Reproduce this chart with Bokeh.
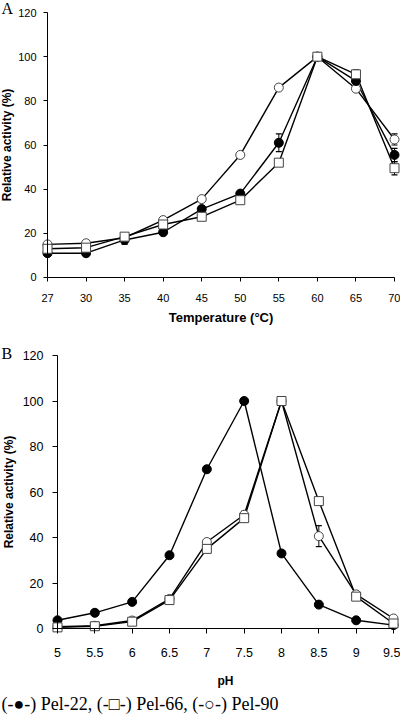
from bokeh.plotting import figure
from bokeh.layouts import column
from bokeh.models import Range1d, FixedTicker, Label
from bokeh.embed import file_html
from bokeh.resources import INLINE

# ---------------- data ----------------
temps = ["27", "30", "35", "40", "45", "50", "55", "60", "65", "70"]
a_pel22 = [11, 11, 17, 20.5, 31, 38, 61, 100, 89, 55.5]
a_pel66 = [13, 13.5, 18.5, 24, 27.5, 35, 52, 100, 92, 49.5]
a_pel90 = [15, 15.5, 18, 26, 35.5, 55.5, 86, 100, 85.5, 62.5]
a_err22 = [1, 1, 2, 1, 1, 1, 4, 1, 1.5, 3]
a_err66 = [1, 1, 1, 1, 1, 1, 1, 1, 2, 3]
a_err90 = [1, 1, 1, 1, 1, 1, 1, 1, 1, 2.5]

phs = ["5", "5.5", "6", "6.5", "7", "7.5", "8", "8.5", "9", "9.5"]
b_pel22 = [3.6, 6.9, 11.7, 32.2, 70, 100, 33, 10.5, 3.6, 1.5]
b_pel66 = [0.5, 1, 3, 12.5, 35, 48.5, 100, 56, 14, 2.2]
b_pel90 = [0.8, 1.2, 3.5, 13, 38, 50, 100, 40.6, 15, 4.4]
b_err22 = [0.5, 0.5, 0.5, 1, 1, 1, 1, 1, 0.5, 0.5]
b_err66 = [0.5, 0.5, 0.5, 1, 1, 1.5, 1, 1, 1, 0.5]
b_err90 = [0.5, 0.5, 0.5, 1, 1, 1.5, 1, 4.6, 1, 0.5]

y_ticks = [0, 20, 40, 60, 80, 100, 120]
legend_text = "(-\u25cf-) Pel-22, (-\u25a1-) Pel-66, (-\u25cb-) Pel-90"

SANS = "Liberation Sans"
SERIF = "Liberation Serif"


def style_axes(p, nlab, labels, tick_font, xlab_font, ylab_font,
               xstand, xlabstand, ystand, ylabstand, tick_out):
    p.xgrid.grid_line_color = None
    p.ygrid.grid_line_color = None
    p.outline_line_color = None
    p.background_fill_color = "white"
    p.border_fill_color = "white"
    for ax in (p.xaxis, p.yaxis):
        ax.axis_line_color = "black"
        ax.axis_line_width = 1
        ax.major_tick_line_color = "black"
        ax.major_tick_out = tick_out
        ax.major_tick_in = 0
        ax.minor_tick_line_color = None
        ax.major_label_text_font = SANS
        ax.major_label_text_font_size = tick_font
        ax.major_label_text_color = "black"
        ax.axis_label_text_font = SANS
        ax.axis_label_text_font_style = "bold"
        ax.axis_label_text_color = "black"
        ax.fixed_location = 0
    p.xaxis.axis_label_text_font_size = xlab_font
    p.yaxis.axis_label_text_font_size = ylab_font
    p.xaxis.major_label_standoff = xstand
    p.xaxis.axis_label_standoff = xlabstand
    p.yaxis.major_label_standoff = ystand
    p.yaxis.axis_label_standoff = ylabstand
    p.yaxis.ticker = FixedTicker(ticks=y_ticks)
    p.yaxis.bounds = (0, 120)
    p.xaxis.bounds = (0, nlab - 1)
    p.xaxis.ticker = FixedTicker(ticks=list(range(nlab)))
    p.xaxis.major_label_overrides = {i: t for i, t in enumerate(labels)}


def draw_series(p, xs, series, errs):
    for ys in series:
        p.line(xs, ys, line_color="black", line_width=1.4)
    for ys, es in zip(series, errs):
        lo = [y - e for y, e in zip(ys, es)]
        hi = [y + e for y, e in zip(ys, es)]
        p.segment(xs, lo, xs, hi, line_color="black", line_width=1)
        p.scatter(xs, lo, marker="dash", size=6, line_color="black", line_width=1.2)
        p.scatter(xs, hi, marker="dash", size=6, line_color="black", line_width=1.2)
    s22, s66, s90 = series
    p.scatter(xs, s90, marker="circle", size=9, fill_color="white",
              line_color="#444444", line_width=1)
    p.scatter(xs, s22, marker="circle", size=9, fill_color="black",
              line_color="black", line_width=1)
    p.scatter(xs, s66, marker="square", size=9, fill_color="white",
              line_color="#444444", line_width=1)


def make_fig(h, xr, yr):
    return figure(width=400, height=h, output_backend="svg", toolbar_location=None,
                  x_range=Range1d(*xr), y_range=Range1d(*yr),
                  min_border_left=0, min_border_right=0, min_border_top=0,
                  min_border_bottom=0)


# ---------------- panel A ----------------
xa = list(range(len(temps)))
pA = make_fig(336, (-1.219, 9.1556), (-26.717, 125.434))
style_axes(pA, len(temps), temps, "11px", "13px", "12px", 13, 4, 7, 1, 4)
pA.xaxis.axis_label = "Temperature (\u00b0C)"
pA.yaxis.axis_label = "Relative activity (%)"
draw_series(pA, xa, [a_pel22, a_pel66, a_pel90], [a_err22, a_err66, a_err90])
pA.add_layout(Label(x=-1.193, y=121.8, text="A", text_font=SERIF,
                    text_font_size="16px", text_baseline="middle",
                    text_align="left", text_color="black"))

# ---------------- panel B ----------------
xb = list(range(len(phs)))
pB = make_fig(378, (-1.5268, 9.1875), (-37.802, 128.352))
style_axes(pB, len(phs), phs, "12.5px", "12px", "12px", 14, 14, 9, 4, 5)
pB.xaxis.axis_label = "pH"
pB.yaxis.axis_label = "Relative activity (%)"
draw_series(pB, xb, [b_pel22, b_pel66, b_pel90], [b_err22, b_err66, b_err90])
pB.add_layout(Label(x=-1.50, y=120.9, text="B", text_font=SERIF,
                    text_font_size="16px", text_baseline="middle",
                    text_align="left", text_color="black"))
pB.add_layout(Label(x=-1.50, y=-32.97, text=legend_text, text_font=SERIF,
                    text_font_size="18px", text_baseline="middle",
                    text_align="left", text_color="black"))

layout = column(pA, pB, spacing=0)
open("out.html", "w").write(file_html(layout, INLINE))
